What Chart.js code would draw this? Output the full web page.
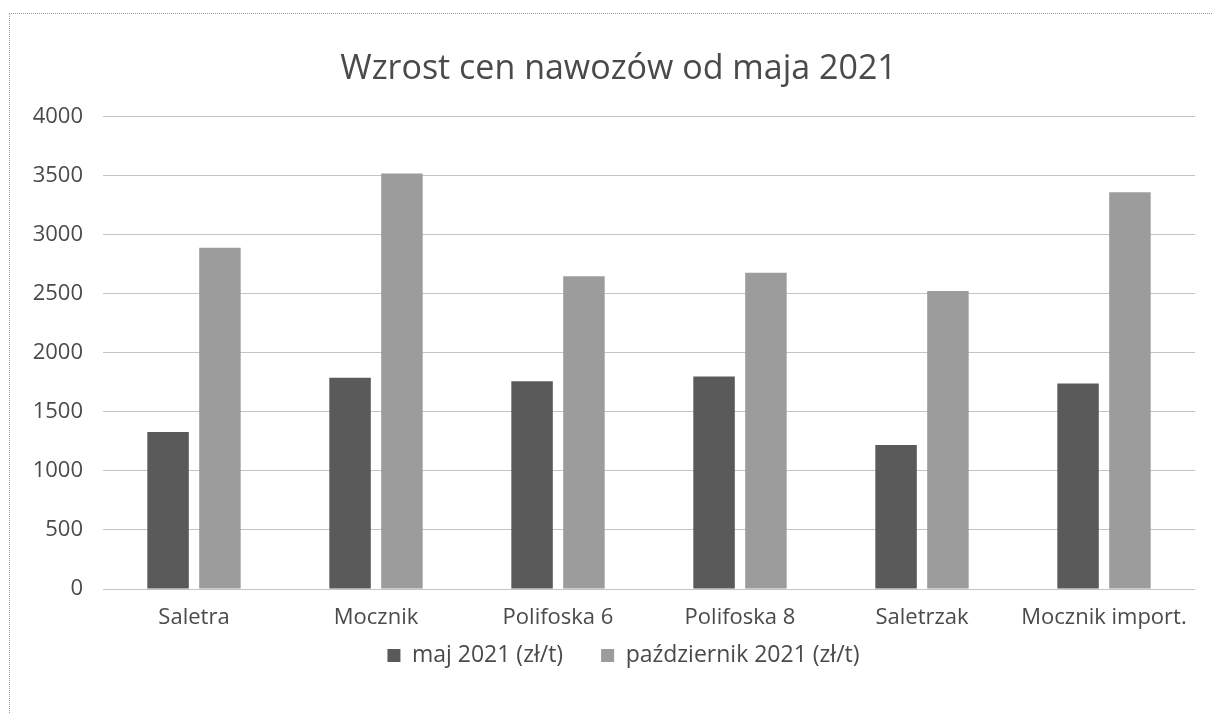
<!DOCTYPE html>
<html>
<head>
<meta charset="utf-8">
<script src="https://cdn.jsdelivr.net/npm/chart.js@4"></script>
<style>
    html, body { margin: 0; padding: 0; background: #fff; }
    #frame { position: absolute; left: 9px; top: 13px; width: 1203px; height: 700px;
             border-top: 1px dotted #9a9a9a; border-left: 1px dotted #9a9a9a; box-sizing: border-box; }
    #wrap { position: absolute; left: 0; top: 0; width: 1212px; height: 713px; }
</style>
</head>
<body>
<div id="frame"></div>
<div id="wrap"><canvas id="fertChart"></canvas></div>
<script>
var categories = ['Saletra', 'Mocznik', 'Polifoska 6', 'Polifoska 8', 'Saletrzak', 'Mocznik import.'];
var seriesNames = ['maj 2021 (zł/t)', 'październik 2021 (zł/t)'];
var majValues = [1330, 1790, 1760, 1800, 1220, 1740];
var pazValues = [2890, 3520, 2650, 2680, 2525, 3360];
var yTicks = [0, 500, 1000, 1500, 2000, 2500, 3000, 3500, 4000];

var textColor = '#4a4a4a';
var fontFamily = "'Open Sans', sans-serif";

// title and legend are a bit right of the canvas centre in the original
var shiftBoxes = {
    id: 'shiftBoxes',
    afterUpdate: (chart) => {
        chart.titleBlock.left += 21;
        chart.titleBlock.right += 21;
        chart.legend.left += 26;
        chart.legend.right += 26;
    },
};

var fertConfig = {
    type: 'bar',
    data: {
        labels: categories,
        datasets: [{
            label: seriesNames[0],
            data: majValues,
            backgroundColor: '#5a5a5a',
        }, {
            label: seriesNames[1],
            data: pazValues,
            backgroundColor: '#9c9c9c',
        }],
    },
    options: {
        responsive: false,
        animation: false,
        categoryPercentage: 0.57,
        barPercentage: 0.8,
        layout: { padding: { left: 0, right: 17, top: 0, bottom: 36 } },
        plugins: {
            title: {
                display: true,
                text: 'Wzrost cen nawozów od maja 2021',
                color: '#4a4a4a',
                font: { family: fontFamily, size: 34, weight: 'normal' },
                padding: { top: 49, bottom: 27 },
            },
            legend: {
                position: 'bottom',
                labels: {
                    color: textColor,
                    font: { family: fontFamily, size: 23 },
                    boxWidth: 13,
                    boxHeight: 13,
                    padding: 9,
                    // extra space after the first entry, the legend padding is also the vertical gap
                    generateLabels: (chart) => {
                        let items = Chart.defaults.plugins.legend.labels.generateLabels(chart);
                        items[0].text = items[0].text + '\u2003 ';
                        return items;
                    },
                },
            },
            tooltip: { enabled: false },
        },
        scales: {
            x: {
                grid: { display: false },
                border: { display: false },
                ticks: { color: textColor, font: { family: fontFamily, size: 22 }, padding: 8 },
                afterFit: (s) => { s.height = 46; },
            },
            y: {
                min: 0,
                max: 4000,
                afterBuildTicks: (s) => { s.ticks = yTicks.map(v => ({ value: v })); },
                grid: { color: '#c4c4c4', lineWidth: 1, drawTicks: false },
                border: { display: false },
                ticks: {
                    color: textColor,
                    font: { family: fontFamily, size: 22 },
                    padding: 20,
                    callback: (v) => String(v),
                },
                afterFit: (s) => { s.width = 103; },
            },
        },
    },
    plugins: [shiftBoxes],
};

var canvas = document.getElementById('fertChart');
canvas.width = 1212;
canvas.height = 713;
window.fertChart = new Chart(canvas, fertConfig);
</script>
</body>
</html>
